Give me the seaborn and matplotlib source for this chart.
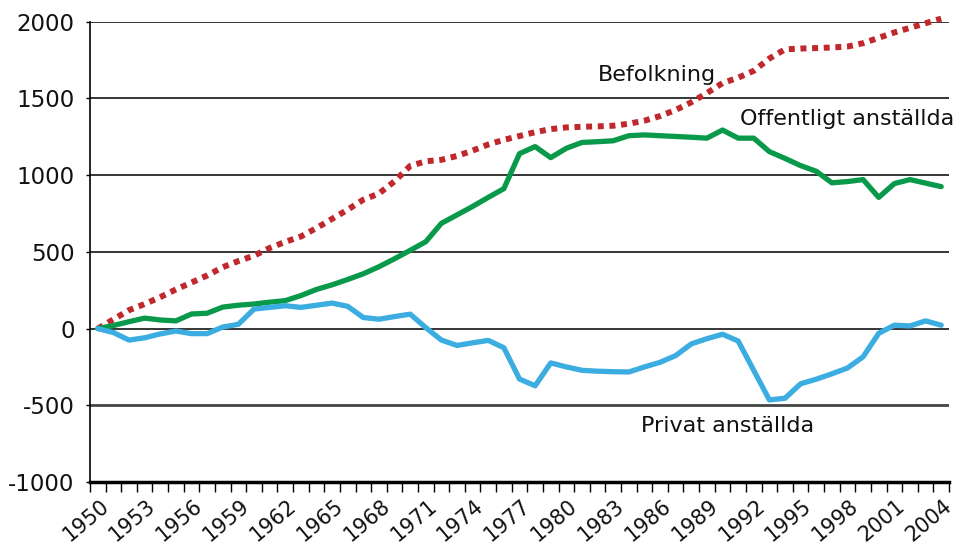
import matplotlib
matplotlib.use("Agg")

import matplotlib.pyplot as plt
import matplotlib.transforms as mtransforms
from matplotlib.ticker import FixedLocator
import numpy as np
import pandas as pd
import seaborn as sns

# change since 1950 (thousands)
years = list(range(1950, 2005))

befolkning = [0, 60, 120, 160, 205, 255, 300, 346, 400, 440,
              475, 525, 565, 600, 655, 715, 775, 840, 880, 960,
              1060, 1090, 1100, 1125, 1160, 1200, 1230, 1255, 1280, 1300,
              1311, 1315, 1318, 1322, 1335, 1355, 1385, 1425, 1475, 1535,
              1600, 1635, 1680, 1760, 1820, 1825, 1828, 1832, 1838, 1860,
              1895, 1930, 1960, 1990, 2020]

offentligt = [0, 20, 45, 68, 56, 50, 95, 100, 140, 152,
              160, 172, 182, 215, 255, 285, 320, 357, 403, 455,
              510, 566, 686, 741, 796, 855, 912, 1140, 1186, 1114,
              1175, 1213, 1218, 1224, 1257, 1262, 1257, 1252, 1247, 1241,
              1294, 1241, 1241, 1153, 1109, 1062, 1025, 950, 958, 971,
              855, 945, 971, 948, 925]

privat = [0, -26, -75, -60, -35, -16, -33, -33, 10, 28,
          127, 138, 149, 138, 152, 166, 145, 72, 61, 78,
          94, 6, -75, -110, -93, -77, -125, -329, -373, -224,
          -250, -272, -278, -281, -283, -250, -220, -176, -100, -66,
          -37, -81, -273, -465, -454, -360, -330, -295, -257, -184,
          -31, 22, 17, 50, 22]

labels = ["Befolkning", "Offentligt anställda", "Privat anställda"]
label_pos = [(1985.8, 1654), (1998.0, 1364), (1990.3, -636)]

sns.set_theme(style="white")
plt.rcParams['font.family'] = ['DejaVu Sans']
plt.rcParams['axes.unicode_minus'] = False

df = pd.DataFrame({"year": years, "bef": befolkning,
                   "off": offentligt, "priv": privat})

fig = plt.figure(figsize=(9.68, 5.49), dpi=100)
ax = fig.add_axes([90 / 968, 1 - 482 / 549, (949 - 90) / 968, (482 - 21.7) / 549])

# grid lines
for v in [0, 500, 1000, 1500, 2000]:
    ax.axhline(v, color="black", lw=1.1, zorder=1)
ax.axhline(-500, color="#444444", lw=2.0, zorder=1)

sns.lineplot(data=df, x="year", y="bef", ax=ax, color="#c0282d", lw=4.3,
             linestyle=(0, (1, 0.95)), dash_capstyle="butt", clip_on=False, zorder=3)
sns.lineplot(data=df, x="year", y="off", ax=ax, color="#08994a", lw=3.8, zorder=3)
sns.lineplot(data=df, x="year", y="priv", ax=ax, color="#3badE0", lw=3.8, zorder=3)

ax.set_xlim(1949.5, 2004.5)
ax.set_ylim(-1000, 2000)
ax.set_yticks([-1000, -500, 0, 500, 1000, 1500, 2000])
ax.set_xticks(years[::3])
ax.xaxis.set_minor_locator(FixedLocator(np.arange(1949.5, 2005, 1.0)))
ax.set_xlabel("")
ax.set_ylabel("")

for s in ["top", "right"]:
    ax.spines[s].set_visible(False)
ax.spines["left"].set_color("black")
ax.spines["left"].set_linewidth(1.2)
ax.spines["bottom"].set_color("black")
ax.spines["bottom"].set_linewidth(2.5)

ax.tick_params(axis="y", which="major", left=True, length=3, width=1,
               color="black", pad=8, labelsize=16.5, labelcolor="#111111")
ax.tick_params(axis="x", which="major", bottom=True, length=0, pad=10,
               labelsize=15, labelcolor="#111111")
ax.tick_params(axis="x", which="minor", bottom=True, length=7, width=1, color="black")

shift = mtransforms.ScaledTranslation(-12 / 100, 0, fig.dpi_scale_trans)
for lab in ax.get_xticklabels():
    lab.set_rotation(40)
    lab.set_ha("center")
    lab.set_transform(lab.get_transform() + shift)

for txt, (x, y) in zip(labels, label_pos):
    ax.text(x, y, txt, ha="center", va="center", fontsize=16, color="#111111")

plt.savefig("out.png", dpi=100)
